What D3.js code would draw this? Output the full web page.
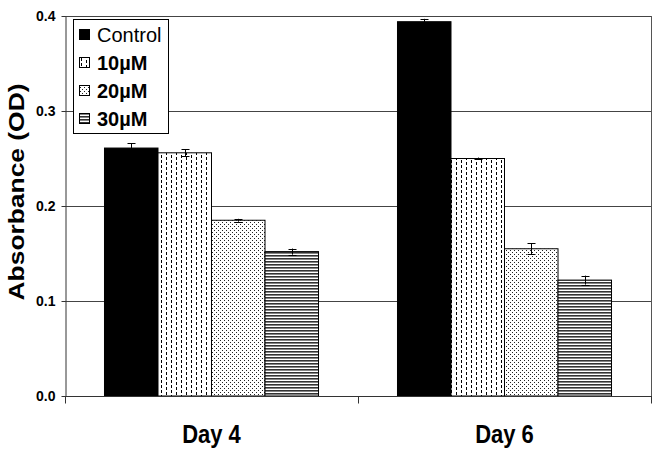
<!DOCTYPE html>
<html>
<head>
<meta charset="utf-8">
<script src="https://cdn.jsdelivr.net/npm/d3@7"></script>
<style>
  html, body { margin: 0; padding: 0; background: #fff; }
  svg { display: block; font-family: "Liberation Sans", Arial, sans-serif; }
</style>
</head>
<body>
<svg id="chart" width="658" height="454"></svg>
<script>
// ---- data ----
const days = ["Day 4", "Day 6"];
const series = ["Control", "10\u00B5M", "20\u00B5M", "30\u00B5M"];
const valuesDay4 = [0.261, 0.256, 0.185, 0.152];
const valuesDay6 = [0.394, 0.250, 0.155, 0.122];
const errorsDay4 = [0.005, 0.0035, 0.0015, 0.0032];
const errorsDay6 = [0.003, 0.001, 0.006, 0.0047];
const yTicks = [0.0, 0.1, 0.2, 0.3, 0.4];

(function () {
const rows = [];
days.forEach((d, i) => {
  const vals = i === 0 ? valuesDay4 : valuesDay6;
  const errs = i === 0 ? errorsDay4 : errorsDay6;
  series.forEach((s, j) => rows.push({ day: d, series: s, si: j, value: vals[j], err: errs[j] }));
});

const svg = d3.select("#chart");
const pLeft = 65, pRight = 651, pTop = 16, pBottom = 396;

// ---- patterns ----
const defs = svg.append("defs");
const p1 = defs.append("pattern").attr("id", "pat10").attr("patternUnits", "userSpaceOnUse")
  .attr("width", 10).attr("height", 5);
p1.append("rect").attr("width", 10).attr("height", 5).attr("fill", "#fff");
p1.append("rect").attr("x", 1).attr("y", 0).attr("width", 1).attr("height", 3).attr("fill", "#000");
p1.append("rect").attr("x", 6).attr("y", 2).attr("width", 1).attr("height", 3).attr("fill", "#000");
const p2 = defs.append("pattern").attr("id", "pat20").attr("patternUnits", "userSpaceOnUse")
  .attr("width", 4).attr("height", 4);
p2.append("rect").attr("width", 4).attr("height", 4).attr("fill", "#fff");
p2.append("rect").attr("x", 0).attr("y", 0).attr("width", 1).attr("height", 1).attr("fill", "#222");
p2.append("rect").attr("x", 2).attr("y", 2).attr("width", 1).attr("height", 1).attr("fill", "#222");
const p3 = defs.append("pattern").attr("id", "pat30").attr("patternUnits", "userSpaceOnUse")
  .attr("width", 4).attr("height", 3);
p3.append("rect").attr("width", 4).attr("height", 3).attr("fill", "#fff");
p3.append("rect").attr("x", 0).attr("y", 0).attr("width", 4).attr("height", 1.6).attr("fill", "#333");

const fills = ["#000", "url(#pat10)", "url(#pat20)", "url(#pat30)"];

// ---- scales ----
const x0 = d3.scaleBand().domain(days).range([pLeft, pRight]).paddingInner(0).paddingOuter(0);
const x1 = d3.scaleBand().domain(series).range([0, x0.bandwidth()]).paddingInner(0).paddingOuter(0.738);
const y = d3.scaleLinear().domain([0, 0.4]).range([pBottom, pTop]);

// ---- gridlines ----
svg.append("g").selectAll("line").data(yTicks.filter(t => t > 0)).join("line")
  .attr("x1", pLeft).attr("x2", pRight)
  .attr("y1", d => Math.round(y(d)) + 0.5).attr("y2", d => Math.round(y(d)) + 0.5)
  .attr("stroke", "#444").attr("stroke-width", 1);
svg.append("line").attr("x1", pRight + 0.5).attr("x2", pRight + 0.5).attr("y1", pTop).attr("y2", pBottom)
  .attr("stroke", "#555").attr("stroke-width", 1);

// ---- bars ----
svg.append("g").selectAll("rect").data(rows).join("rect")
  .attr("x", d => x0(d.day) + x1(d.series))
  .attr("y", d => y(d.value))
  .attr("width", x1.bandwidth())
  .attr("height", d => y(0) - y(d.value))
  .attr("fill", d => fills[d.si])
  .attr("stroke", "#000").attr("stroke-width", 1);

// ---- error bars ----
const cx = d => Math.round(x0(d.day) + x1(d.series) + x1.bandwidth() / 2) + 0.5;
const eb = svg.append("g").attr("stroke", "#000").attr("stroke-width", 1);
eb.selectAll("line.v").data(rows).join("line").attr("class", "v")
  .attr("x1", cx).attr("x2", cx)
  .attr("y1", d => y(d.value + d.err)).attr("y2", d => y(d.value - d.err));
eb.selectAll("line.t").data(rows).join("line").attr("class", "t")
  .attr("x1", d => cx(d) - 4).attr("x2", d => cx(d) + 4)
  .attr("y1", d => Math.round(y(d.value + d.err)) + 0.5).attr("y2", d => Math.round(y(d.value + d.err)) + 0.5);
eb.selectAll("line.b").data(rows.filter(d => d.si !== 0)).join("line").attr("class", "b")
  .attr("x1", d => cx(d) - 4).attr("x2", d => cx(d) + 4)
  .attr("y1", d => Math.round(y(d.value - d.err)) + 0.5).attr("y2", d => Math.round(y(d.value - d.err)) + 0.5);

// ---- y axis ----
const yAxis = d3.axisLeft(y).tickValues(yTicks).tickFormat(d3.format(".1f")).tickSizeInner(4).tickSizeOuter(0).tickPadding(6);
const gy = svg.append("g").attr("transform", `translate(${pLeft + 0.5},0)`).call(yAxis);
gy.select(".domain").attr("stroke", "#333");
gy.selectAll(".tick line").attr("stroke", "#333");
gy.selectAll("text").attr("font-family", "Liberation Sans, Arial, sans-serif")
  .attr("font-size", 14).attr("font-weight", "bold").attr("fill", "#000");

// ---- x axis ----
const gx = svg.append("g").attr("transform", `translate(0,${pBottom + 0.5})`);
gx.append("line").attr("x1", pLeft).attr("x2", pRight + 1).attr("stroke", "#333");
const boundaries = [pLeft, x0(days[1]), pRight];
gx.selectAll("line.tk").data(boundaries).join("line").attr("class", "tk")
  .attr("x1", d => Math.round(d) + 0.5).attr("x2", d => Math.round(d) + 0.5)
  .attr("y1", 0).attr("y2", 7).attr("stroke", "#333");
gx.selectAll("text").data(days).join("text")
  .attr("transform", d => `translate(${x0(d) + x0.bandwidth() / 2},${46}) scale(1,1.2)`)
  .attr("text-anchor", "middle")
  .attr("font-size", 22).attr("font-weight", "bold")
  .text(d => d);

// ---- y title ----
svg.append("text")
  .attr("transform", "translate(24,192) rotate(-90) scale(1.2,1)")
  .attr("text-anchor", "middle")
  .attr("font-size", 22).attr("font-weight", "bold")
  .text("Absorbance (OD)");

// ---- legend ----
const lg = svg.append("g");
lg.append("rect").attr("x", 73.5).attr("y", 19.5).attr("width", 95).attr("height", 114)
  .attr("fill", "#fff").attr("stroke", "#000").attr("stroke-width", 1);
const items = lg.selectAll("g.it").data(series).join("g").attr("class", "it")
  .attr("transform", (d, i) => `translate(0,${35 + i * 28})`);
items.append("rect").attr("x", 79.5).attr("y", -5.5).attr("width", 10).attr("height", 10)
  .attr("fill", (d, i) => fills[i]).attr("stroke", "#000").attr("stroke-width", 1);
items.append("text").attr("x", 97).attr("y", 7)
  .attr("font-size", 20).attr("font-weight", (d, i) => i === 0 ? "normal" : "bold")
  .text(d => d);
})();
</script>
</body>
</html>
